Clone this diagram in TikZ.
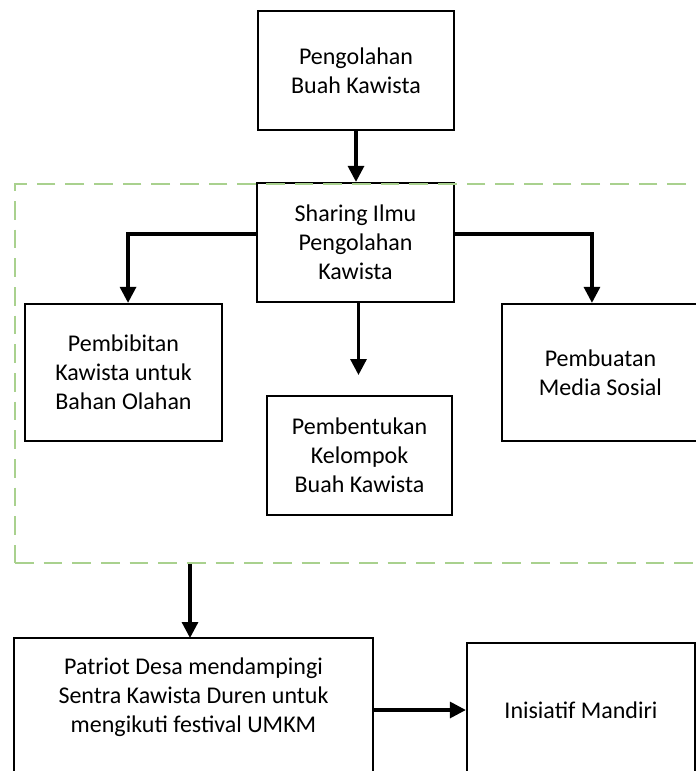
\documentclass[tikz,border=0pt]{standalone}
\usepackage{fontspec}
\setmainfont{Carlito}
\usetikzlibrary{arrows.meta}
\definecolor{dashgreen}{RGB}{169,209,142}
\begin{document}
\begin{tikzpicture}[x=0.75pt,y=-0.75pt,
  boxline/.style={draw=black, line width=1.7pt},
  box/.style={boxline, align=center, inner sep=0pt, font=\fontsize{18}{21.75}\selectfont},
  conn/.style={line width=2.4pt, -{Triangle[width=12pt,length=12pt]}},
  grp/.style={draw=dashgreen, line width=2pt, dash pattern=on 14pt off 7.5pt, inner sep=0pt}]
\path[use as bounding box, clip] (0,0) rectangle (696,771);
\fill[white] (0,0) rectangle (696,771);
\node[box, minimum width=147pt, minimum height=89.25pt] (top) at (356,70.5) {Pengolahan\\Buah Kawista};
\node[box, minimum width=147.75pt, minimum height=89.25pt] (share) at (355.5,242.5) {Sharing Ilmu\\Pengolahan\\Kawista};
\node[box, minimum width=147.75pt, minimum height=102.75pt] (pemb) at (123.5,372.5) {Pembibitan\\Kawista untuk\\Bahan Olahan};
\node[box, minimum width=147.75pt, minimum height=102.75pt] (media) at (600.5,372.5) {Pembuatan\\Media Sosial};
\node[box, minimum width=138.75pt, minimum height=89.25pt] (pembent) at (359.5,455.5) {Pembentukan\\Kelompok\\Buah Kawista};
\node[grp, minimum width=528.75pt, minimum height=284.25pt] (group) at (367.5,373.5) {};
\node[box, draw=none, anchor=north, minimum width=267.75pt, inner ysep=14pt] (patriot) at (193.5,638) {Patriot Desa mendampingi\\Sentra Kawista Duren untuk\\mengikuti festival UMKM};
\draw[boxline] (patriot.north west) rectangle ([yshift=-200pt]patriot.north east);
\node[box, minimum width=171pt, minimum height=100.5pt] (inis) at (581,710) {Inisiatif Mandiri};
\coordinate (midend) at (358.5,375);
\coordinate (gx) at (190,600);
\draw[conn] (top.south) -- (top.south |- share.north);
\draw[conn] ([yshift=6.4pt]share.west) -| ([xshift=3.4pt]pemb.north);
\draw[conn] ([yshift=6.4pt]share.east) -| ([xshift=-6.4pt]media.north);
\draw[conn] (share.south -| midend) -- (midend);
\draw[conn] (group.south -| gx) -- (patriot.north -| gx);
\draw[conn] (inis.west -| patriot.east) -- (inis.west);
\end{tikzpicture}
\end{document}
